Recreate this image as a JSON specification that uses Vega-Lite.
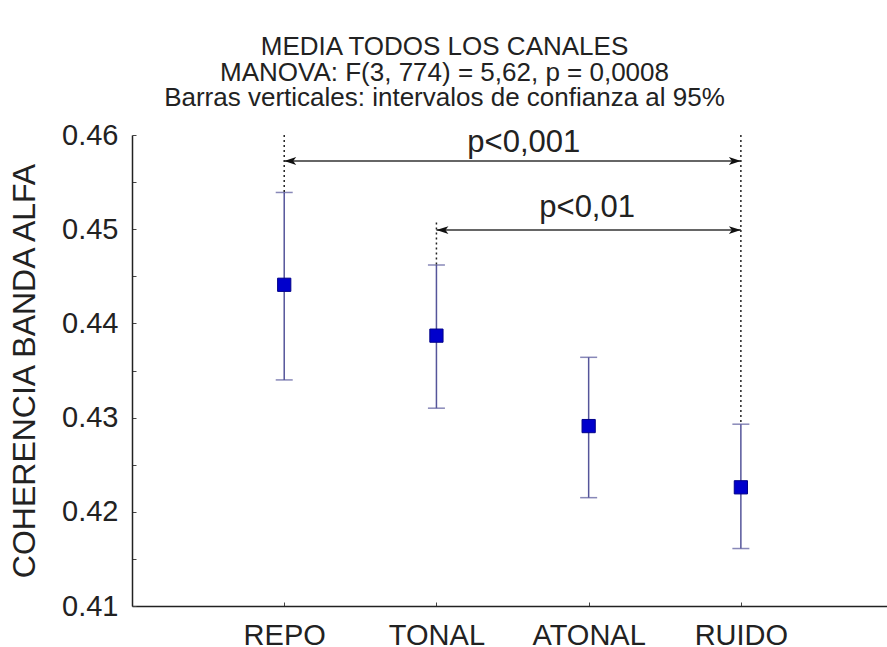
{
  "$schema": "https://vega.github.io/schema/vega-lite/v6.json",
  "width": 755,
  "height": 471,
  "autosize": {"type": "none"},
  "padding": {"left": 132, "top": 135, "right": 0, "bottom": 41},
  "background": "white",
  "config": {
    "view": {"stroke": null},
    "font": "Liberation Sans",
    "axis": {
      "grid": false,
      "tickSize": -4,
      "tickColor": "#444444",
      "domainColor": "#222222",
      "domainWidth": 1.5,
      "labelFontSize": 29,
      "labelColor": "#222222",
      "labelFont": "Liberation Sans",
      "titleFont": "Liberation Sans",
      "titleFontSize": 32,
      "titleFontWeight": "normal",
      "titleColor": "#222222"
    },
    "axisX": {"labelPadding": 19},
    "axisY": {"labelPadding": 18, "titlePadding": 20}
  },
  "title": {
    "text": "MEDIA TODOS LOS CANALES",
    "subtitle": ["MANOVA: F(3, 774) = 5,62, p = 0,0008", "Barras verticales: intervalos de confianza al 95%"],
    "font": "Liberation Sans",
    "subtitleFont": "Liberation Sans",
    "fontSize": 26,
    "fontWeight": "normal",
    "lineHeight": 25,
    "subtitleFontSize": 26,
    "subtitleLineHeight": 25,
    "subtitlePadding": 0,
    "color": "#222222",
    "subtitleColor": "#222222",
    "anchor": "middle",
    "dx": -65,
    "offset": 10
  },
  "datasets": {
    "medias": [
      {"grupo": "REPO", "pos": 1, "media": 0.4441, "inf": 0.4340, "sup": 0.4539},
      {"grupo": "TONAL", "pos": 2, "media": 0.4387, "inf": 0.4310, "sup": 0.4462},
      {"grupo": "ATONAL", "pos": 3, "media": 0.4291, "inf": 0.4215, "sup": 0.4364},
      {"grupo": "RUIDO", "pos": 4, "media": 0.4226, "inf": 0.4161, "sup": 0.4293}
    ],
    "guias": [
      {"pos": 1, "desde": 0.46, "hasta": 0.4539},
      {"pos": 2, "desde": 0.4507, "hasta": 0.4462},
      {"pos": 4, "desde": 0.46, "hasta": 0.4293}
    ],
    "flechas": [
      {"desde": 1, "hasta": 4, "nivel": 0.45724, "texto": "p<0,001", "tx": 2.574, "ty": 0.4582},
      {"desde": 2, "hasta": 4, "nivel": 0.44991, "texto": "p<0,01", "tx": 2.99, "ty": 0.4513}
    ]
  },
  "layer": [
    {
      "data": {"name": "medias"},
      "mark": {"type": "rule", "color": "#55559a", "strokeWidth": 1.5},
      "encoding": {
        "x": {
          "field": "pos", "type": "quantitative", "title": null,
          "scale": {"domain": [0, 4.96], "nice": false, "zero": false},
          "axis": {"values": [1, 2, 3, 4], "labelExpr": "['', 'REPO', 'TONAL', 'ATONAL', 'RUIDO'][datum.value]"}
        },
        "y": {
          "field": "inf", "type": "quantitative", "title": "COHERENCIA BANDA ALFA",
          "scale": {"domain": [0.41, 0.46], "nice": false, "zero": false},
          "axis": {
            "values": [0.41, 0.415, 0.42, 0.425, 0.43, 0.435, 0.44, 0.445, 0.45, 0.455, 0.46],
            "labelExpr": "abs(datum.value * 100 - round(datum.value * 100)) < 0.01 ? format(datum.value, '.2f') : ''"
          }
        },
        "y2": {"field": "sup"}
      }
    },
    {
      "data": {"name": "medias"},
      "mark": {"type": "tick", "orient": "horizontal", "size": 17, "thickness": 1.5, "color": "#55559a"},
      "encoding": {
        "x": {"field": "pos", "type": "quantitative", "title": null},
        "y": {"field": "inf", "type": "quantitative", "title": "COHERENCIA BANDA ALFA"}
      }
    },
    {
      "data": {"name": "medias"},
      "mark": {"type": "tick", "orient": "horizontal", "size": 17, "thickness": 1.5, "color": "#55559a"},
      "encoding": {
        "x": {"field": "pos", "type": "quantitative", "title": null},
        "y": {"field": "sup", "type": "quantitative", "title": "COHERENCIA BANDA ALFA"}
      }
    },
    {
      "data": {"name": "medias"},
      "mark": {"type": "point", "shape": "square", "filled": true, "size": 175, "color": "#0000cc", "opacity": 1, "stroke": "#00008a", "strokeWidth": 1},
      "encoding": {
        "x": {"field": "pos", "type": "quantitative", "title": null},
        "y": {"field": "media", "type": "quantitative", "title": "COHERENCIA BANDA ALFA"}
      }
    },
    {
      "data": {"name": "guias"},
      "mark": {"type": "rule", "color": "#222222", "strokeWidth": 1.5, "strokeDash": [2, 3]},
      "encoding": {
        "x": {"field": "pos", "type": "quantitative", "title": null},
        "y": {"field": "desde", "type": "quantitative", "title": "COHERENCIA BANDA ALFA"},
        "y2": {"field": "hasta"}
      }
    },
    {
      "data": {"name": "flechas"},
      "mark": {"type": "rule", "color": "#333333", "strokeWidth": 1.5},
      "encoding": {
        "x": {"field": "desde", "type": "quantitative", "title": null},
        "x2": {"field": "hasta"},
        "y": {"field": "nivel", "type": "quantitative", "title": "COHERENCIA BANDA ALFA"}
      }
    },
    {
      "data": {"name": "flechas"},
      "mark": {"type": "point", "shape": "M0,0L4,-1.3L3,0L4,1.3Z", "size": 36, "filled": true, "color": "#111111", "opacity": 1},
      "encoding": {
        "x": {"field": "desde", "type": "quantitative", "title": null},
        "y": {"field": "nivel", "type": "quantitative", "title": "COHERENCIA BANDA ALFA"}
      }
    },
    {
      "data": {"name": "flechas"},
      "mark": {"type": "point", "shape": "M0,0L-4,-1.3L-3,0L-4,1.3Z", "size": 36, "filled": true, "color": "#111111", "opacity": 1},
      "encoding": {
        "x": {"field": "hasta", "type": "quantitative", "title": null},
        "y": {"field": "nivel", "type": "quantitative", "title": "COHERENCIA BANDA ALFA"}
      }
    },
    {
      "data": {"name": "flechas"},
      "mark": {"type": "text", "fontSize": 31, "font": "Liberation Sans", "color": "#222222", "align": "center", "baseline": "alphabetic"},
      "encoding": {
        "x": {"field": "tx", "type": "quantitative", "title": null},
        "y": {"field": "ty", "type": "quantitative", "title": "COHERENCIA BANDA ALFA"},
        "text": {"field": "texto"}
      }
    }
  ]
}
